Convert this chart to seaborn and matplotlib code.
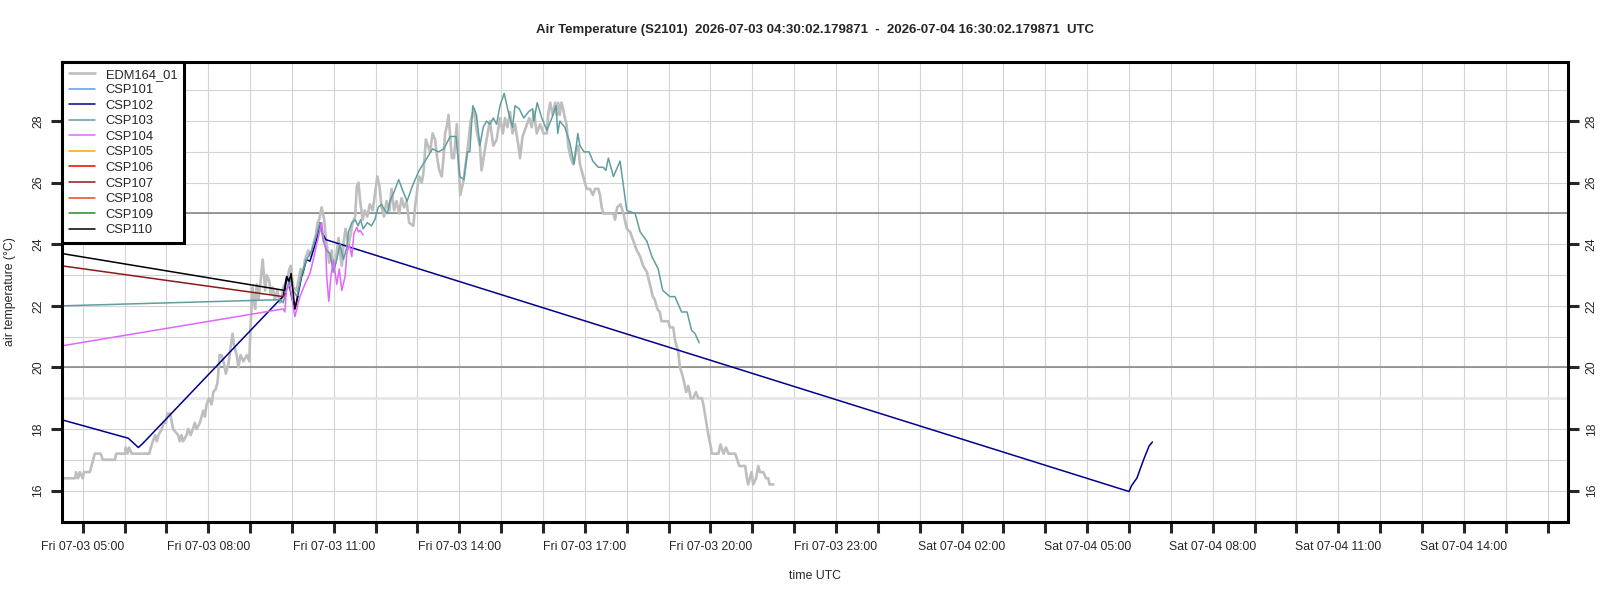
import matplotlib
matplotlib.use("Agg")
import matplotlib.pyplot as plt
import matplotlib.dates as mdates
from matplotlib.lines import Line2D
from matplotlib.ticker import FuncFormatter, MultipleLocator
import pandas as pd
import seaborn as sns

START = pd.Timestamp("2026-07-03 04:30:02.179871")
END = pd.Timestamp("2026-07-04 16:30:02.179871")
TITLE = ("Air Temperature (S2101)  2026-07-03 04:30:02.179871  -  "
         "2026-07-04 16:30:02.179871  UTC")

# hours since START, temperatures in degC
edm_hours = [
    0.00, 0.32, 0.34, 0.39, 0.43, 0.50, 0.53, 0.67, 0.75, 0.79,
    0.93, 0.98, 1.27, 1.30, 1.51, 1.53, 1.57, 1.61, 1.67, 2.09,
    2.15, 2.23, 2.27, 2.31, 2.39, 2.43, 2.49, 2.52, 2.59, 2.66,
    2.78, 2.82, 2.86, 2.90, 2.98, 3.02, 3.08, 3.13, 3.18, 3.22,
    3.30, 3.34, 3.38, 3.42, 3.46, 3.52, 3.58, 3.62, 3.68, 3.72,
    3.74, 3.77, 3.82, 3.88, 3.92, 3.98, 4.04, 4.08, 4.12, 4.18,
    4.22, 4.27, 4.34, 4.42, 4.48, 4.51, 4.56, 4.59, 4.62, 4.66,
    4.70, 4.75, 4.80, 4.86, 4.90, 4.96, 4.99, 5.04, 5.09, 5.15,
    5.21, 5.25, 5.29, 5.37, 5.44, 5.47, 5.53, 5.61, 5.65, 5.71,
    5.76, 5.81, 5.89, 5.95, 6.01, 6.07, 6.11, 6.15, 6.21, 6.27,
    6.31, 6.35, 6.39, 6.45, 6.49, 6.55, 6.61, 6.65, 6.69, 6.74,
    6.78, 6.85, 6.90, 6.95, 7.01, 7.05, 7.09, 7.13, 7.19, 7.24,
    7.30, 7.36, 7.43, 7.48, 7.54, 7.59, 7.64, 7.70, 7.76, 7.83,
    7.88, 7.94, 8.00, 8.06, 8.12, 8.18, 8.24, 8.30, 8.40, 8.44,
    8.48, 8.52, 8.54, 8.60, 8.64, 8.70, 8.75, 8.80, 8.86, 8.92,
    8.97, 9.02, 9.08, 9.12, 9.16, 9.21, 9.24, 9.32, 9.37, 9.44,
    9.52, 9.59, 9.69, 9.77, 9.85, 9.91, 9.99, 10.03, 10.09, 10.15,
    10.23, 10.31, 10.39, 10.47, 10.54, 10.59, 10.65, 10.71, 10.77, 10.83,
    10.91, 10.95, 11.01, 11.09, 11.17, 11.23, 11.28, 11.35, 11.43, 11.51,
    11.59, 11.62, 11.67, 11.73, 11.79, 11.83, 11.86, 11.90, 11.94, 11.98,
    12.02, 12.06, 12.10, 12.16, 12.22, 12.30, 12.34, 12.38, 12.48, 12.54,
    12.62, 12.69, 12.74, 12.82, 12.86, 12.90, 12.94, 13.18, 13.22, 13.27,
    13.35, 13.42, 13.50, 13.58, 13.66, 13.74, 13.82, 13.89, 13.98, 14.07,
    14.12, 14.17, 14.23, 14.29, 14.33, 14.49, 14.53, 14.61, 14.65, 14.73,
    14.77, 14.84, 14.92, 14.97, 15.03, 15.09, 15.15, 15.21, 15.29, 15.33,
    15.39, 15.45, 15.51, 15.53, 15.69, 15.74, 15.81, 15.87, 15.93, 16.09,
    16.14, 16.19, 16.33, 16.37, 16.40, 16.44, 16.48, 16.52, 16.59, 16.64,
    16.68, 16.76, 16.83, 16.88, 16.91, 17.00,
]
edm_temp = [
    16.4, 16.4, 16.6, 16.4, 16.6, 16.4, 16.6, 16.6, 17.0, 17.2,
    17.2, 17.0, 17.0, 17.2, 17.2, 17.4, 17.2, 17.4, 17.2, 17.2,
    17.5, 17.8, 17.6, 17.8, 18.0, 18.2, 18.2, 18.5, 18.5, 18.0,
    17.8, 17.6, 17.8, 17.6, 17.8, 18.0, 17.8, 18.0, 18.2, 18.0,
    18.2, 18.4, 18.6, 18.4, 18.8, 19.0, 18.8, 19.2, 19.3, 19.5,
    19.8, 20.4, 20.4, 20.1, 19.8, 20.1, 20.7, 21.1, 20.7, 20.4,
    20.0, 20.4, 20.2, 20.4, 20.2, 21.3, 22.6, 22.2, 21.9, 22.7,
    22.2, 22.8, 23.5, 22.5, 23.0, 22.8, 22.4, 22.6, 22.2, 22.5,
    22.1, 22.2, 22.6, 22.8, 23.2, 23.3, 22.6, 22.5, 22.8, 23.2,
    23.0, 23.5, 23.8, 23.6, 24.0, 24.3, 24.7, 24.8, 25.2, 24.8,
    24.2, 23.8, 23.4, 23.8, 23.1, 23.5, 24.2, 23.7, 23.3, 24.1,
    24.5, 24.0, 24.3, 24.7, 24.9, 25.9, 26.0, 25.4, 24.8, 25.1,
    24.9, 25.3, 25.1, 25.6, 26.2, 25.9, 25.2, 24.9, 25.4, 25.1,
    25.8, 25.1, 25.4, 25.0, 25.5, 25.2, 25.4, 24.7, 24.6, 25.2,
    25.6, 26.1, 26.2, 26.0, 26.3, 27.4, 27.2, 27.0, 27.6, 27.4,
    26.8, 26.4, 26.2, 26.8, 27.6, 27.9, 28.2, 26.8, 26.8, 27.9,
    25.6, 26.0, 27.0, 28.0, 28.4, 27.7, 27.2, 26.4, 26.9, 27.4,
    28.0, 27.2, 27.4, 28.1, 27.6, 28.1, 27.8, 28.3, 27.6, 27.9,
    27.2, 26.8, 27.5, 27.8, 28.1, 27.8, 28.3, 27.6, 27.9, 27.6,
    27.6, 28.2, 28.6, 28.2, 28.6, 28.2, 28.6, 28.2, 28.6, 28.4,
    28.1, 27.9, 27.2, 26.8, 26.6, 27.1, 27.2, 26.6, 26.1, 25.8,
    25.8, 25.6, 25.8, 25.8, 25.6, 25.2, 25.0, 25.0, 24.8, 25.2,
    25.3, 25.0, 24.5, 24.4, 24.1, 23.8, 23.6, 23.3, 23.1, 22.6,
    22.3, 22.2, 21.9, 21.8, 21.5, 21.5, 21.3, 21.3, 20.9, 20.5,
    20.0, 19.7, 19.2, 19.4, 19.0, 19.0, 19.2, 19.0, 19.0, 18.8,
    18.3, 17.8, 17.4, 17.2, 17.2, 17.5, 17.2, 17.4, 17.2, 17.2,
    17.0, 16.8, 16.8, 16.4, 16.2, 16.4, 16.6, 16.2, 16.4, 16.8,
    16.6, 16.6, 16.4, 16.4, 16.2, 16.2,
]

csp102_hours = [0.00, 1.59, 1.71, 1.83, 1.95, 5.21, 5.29, 5.37, 5.42, 5.49,
                5.57, 5.65, 5.73, 5.85, 5.93, 6.01, 6.09, 6.17, 6.21, 6.31,
                25.50, 25.56, 25.69, 25.85, 25.98, 26.06]
csp102_temp = [18.3, 17.7, 17.55, 17.4, 17.55, 22.2, 22.3, 22.95, 22.8, 22.3,
               21.9, 22.4, 22.95, 23.5, 23.45, 23.8, 24.15, 24.7, 24.4, 24.15,
               15.97, 16.16, 16.41, 17.01, 17.45, 17.58]

csp103_hours = [
    0.00, 5.21, 5.29, 5.37, 5.45, 5.53, 5.62, 5.73, 5.85, 5.97,
    6.09, 6.17, 6.25, 6.33, 6.41, 6.49, 6.57, 6.65, 6.73, 6.81,
    6.85, 6.93, 7.01, 7.08, 7.14, 7.20, 7.30, 7.40, 7.48, 7.56,
    7.64, 7.72, 7.78, 7.84, 7.94, 8.05, 8.16, 8.25, 8.38, 8.54,
    8.68, 8.86, 9.00, 9.13, 9.28, 9.42, 9.51, 9.61, 9.69, 9.75,
    9.82, 9.91, 9.99, 10.07, 10.15, 10.23, 10.31, 10.39, 10.47, 10.57,
    10.67, 10.77, 10.83, 10.93, 11.04, 11.15, 11.25, 11.28, 11.36, 11.47,
    11.59, 11.71, 11.81, 11.85, 11.90, 12.02, 12.14, 12.24, 12.33, 12.38,
    12.48, 12.60, 12.69, 12.82, 12.94, 13.00, 13.06, 13.18, 13.34, 13.42,
    13.50, 13.70, 13.82, 13.98, 14.10, 14.25, 14.36, 14.53, 14.65, 14.81,
    14.94, 15.05, 15.13, 15.23,
]
csp103_temp = [
    22.0, 22.2, 22.1, 22.5, 22.9, 22.5, 22.3, 23.0, 23.5, 23.8,
    24.3, 24.7, 24.1, 23.8, 23.7, 23.1, 23.5, 24.0, 23.5, 23.9,
    24.4, 24.7, 24.8, 24.6, 24.8, 24.5, 24.7, 24.6, 24.8, 25.2,
    25.3, 25.1, 25.0, 25.4, 25.7, 26.1, 25.7, 25.4, 25.9, 26.4,
    26.7, 27.1, 27.0, 27.1, 27.5, 27.5, 26.2, 26.1, 27.0, 27.0,
    28.5, 28.2, 27.2, 27.8, 28.0, 27.9, 28.1, 27.9, 28.5, 28.9,
    28.3, 27.8, 28.5, 28.4, 28.1, 28.3, 28.4, 28.0, 28.6, 28.1,
    27.7, 28.1, 28.5, 27.6, 28.0, 27.8, 27.3, 26.6, 27.6, 27.2,
    27.0, 27.0, 26.7, 26.5, 26.5, 26.4, 26.8, 26.2, 26.7, 25.9,
    25.1, 25.0, 24.4, 24.1, 23.6, 23.2, 22.5, 22.3, 22.3, 21.8,
    21.8, 21.2, 21.1, 20.8,
]

csp104_hours = [0.00, 5.29, 5.33, 5.37, 5.45, 5.57, 5.69, 5.81, 5.93, 6.01,
                6.09, 6.17, 6.21, 6.25, 6.31, 6.33, 6.38, 6.43, 6.49, 6.57,
                6.63, 6.69, 6.77, 6.81, 6.87, 6.93, 6.98, 7.05, 7.09, 7.13,
                7.20]
csp104_temp = [20.7, 21.9, 21.8, 22.5, 22.7, 21.65, 22.3, 22.7, 23.05, 23.5,
               24.0, 24.45, 24.7, 24.25, 23.8, 22.95, 22.15, 22.95, 23.5, 22.7,
               23.2, 22.5, 22.95, 23.7, 24.0, 23.6, 24.35, 24.55, 24.4, 24.45,
               24.3]

csp107_hours = [0.00, 5.29, 5.33]
csp107_temp = [23.3, 22.3, 22.4]

csp110_hours = [0.00, 5.33, 5.38, 5.43, 5.48, 5.57, 5.64]
csp110_temp = [23.7, 22.5, 22.95, 22.8, 23.05, 21.9, 22.3]

sensors = ["EDM164_01", "CSP101", "CSP102", "CSP103", "CSP104", "CSP105",
           "CSP106", "CSP107", "CSP108", "CSP109", "CSP110"]
colors = ["#BEBEBE", "#6495ED", "#00008B", "#5F9EA0", "#E066FF", "#FFA500",
          "#EE0000", "#8B1A1A", "#E8452C", "#228B22", "#000000"]

series = {
    "EDM164_01": (edm_hours, edm_temp),
    "CSP102": (csp102_hours, csp102_temp),
    "CSP103": (csp103_hours, csp103_temp),
    "CSP104": (csp104_hours, csp104_temp),
    "CSP107": (csp107_hours, csp107_temp),
    "CSP110": (csp110_hours, csp110_temp),
}

sns.set_style("white")
plt.rcParams["font.family"] = ["Liberation Sans", "DejaVu Sans"]

fig = plt.figure(figsize=(16, 6), dpi=100)
ax = fig.add_axes([0.0386, 0.13, 0.9417, 0.7672])

# reference lines
ax.axhline(19, color="#E6E6E6", lw=2.0, zorder=0.8)
ax.axhline(20, color="#808080", lw=1.1, zorder=1.5)
ax.axhline(25, color="#808080", lw=1.1, zorder=1.5)

for name, color in zip(sensors, colors):
    if name not in series:
        continue
    hours, temps = series[name]
    df = pd.DataFrame({
        "time": START + pd.to_timedelta(hours, unit="h"),
        "temp": temps,
    })
    lw = 1.9 if name == "EDM164_01" else 1.1
    sns.lineplot(data=df, x="time", y="temp", color=color, lw=lw, ax=ax,
                 estimator=None, sort=False, legend=False)

ax.set_xlim(START, END)
ax.set_ylim(14.98, 29.93)


def hour_label(v, pos):
    d = mdates.num2date(v)
    return d.strftime("%a %m-%d %H:%M") if d.hour % 3 == 2 else ""


ax.xaxis.set_major_locator(mdates.HourLocator())
ax.xaxis.set_major_formatter(FuncFormatter(hour_label))
ax.yaxis.set_major_locator(MultipleLocator(2))
ax.yaxis.set_minor_locator(MultipleLocator(1))

ax.set_axisbelow(True)
ax.grid(which="both", color="#D3D3D3", lw=0.8)

ax.tick_params(which="minor", length=0)
ax.tick_params(axis="x", which="major", bottom=True, direction="out",
               length=8, width=2.2, labelsize=8.8, pad=6)
ax.tick_params(axis="y", which="major", left=True, right=True,
               labelleft=True, labelright=True, direction="out",
               length=8, width=2.2, labelsize=8.8, pad=6, labelrotation=90)
ax.yaxis.set_tick_params(which="major", pad=4.5)
for lab in ax.get_yticklabels(which="major"):
    lab.set_va("center")

for sp in ax.spines.values():
    sp.set_visible(True)
    sp.set_color("black")
    sp.set_linewidth(2.2)

ax.set_xlabel("time UTC", fontsize=8.8)
ax.xaxis.set_label_coords(0.5, -0.117)
ax.xaxis.label.set_va("center")
ax.set_ylabel("air temperature (°C)", fontsize=8.8)
ax.yaxis.set_label_coords(-0.0344, 0.5)
ax.yaxis.label.set_va("center")

ax.text(0.5, 1.068, TITLE, transform=ax.transAxes, ha="center", va="center",
        fontsize=9.5, fontweight="bold")

handles = [Line2D([], [], color=c, lw=(1.9 if n == "EDM164_01" else 1.1))
           for n, c in zip(sensors, colors)]
leg = ax.legend(handles, sensors, loc="upper left", borderaxespad=0,
                fontsize=9.3, frameon=True, fancybox=False, edgecolor="black",
                framealpha=1, handlelength=2.0, handletextpad=0.85,
                labelspacing=0.27, borderpad=0.55)
leg.get_frame().set_linewidth(2.2)

fig.savefig("out.png", dpi=100)
plt.close(fig)
